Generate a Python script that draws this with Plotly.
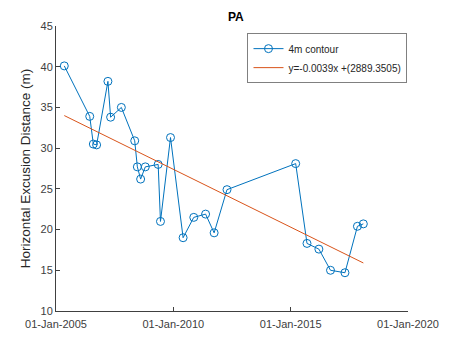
import plotly.graph_objects as go

dates = ["2005-05-10", "2006-06-10", "2006-08-05", "2006-09-25", "2007-03-20",
         "2007-05-01", "2007-10-15", "2008-05-10", "2008-06-20", "2008-08-10",
         "2008-10-22", "2009-05-10", "2009-06-15", "2009-11-18", "2010-06-02",
         "2010-11-15", "2011-05-18", "2011-09-28", "2012-04-15", "2015-03-20",
         "2015-09-12", "2016-03-15", "2016-09-12", "2017-04-25", "2017-11-05",
         "2018-02-05"]
values = [40.1, 33.9, 30.5, 30.4, 38.2, 33.8, 35.0, 30.9, 27.7, 26.2,
          27.7, 28.0, 21.0, 31.3, 19.0, 21.5, 21.9, 19.6, 24.9, 28.1,
          18.3, 17.6, 15.0, 14.7, 20.4, 20.7]
trend_dates = [dates[0], dates[-1]]
trend_values = [34.0, 15.9]

x_ticks = ["2005-01-01", "2010-01-01", "2015-01-01", "2020-01-01"]
x_ticktext = ["01-Jan-2005", "01-Jan-2010", "01-Jan-2015", "01-Jan-2020"]
y_ticks = [10, 15, 20, 25, 30, 35, 40, 45]

FONT = "Arial, Liberation Sans, sans-serif"

fig = go.Figure()
fig.add_trace(go.Scatter(
    x=dates, y=values, mode="lines+markers", name="4m contour",
    line=dict(color="#0072BD", width=1),
    marker=dict(symbol="circle-open", size=8, color="#0072BD", line=dict(width=1)),
))
fig.add_trace(go.Scatter(
    x=trend_dates, y=trend_values, mode="lines", name="y=-0.0039x +(2889.3505)",
    line=dict(color="#D95319", width=1),
))

axis_common = dict(
    showgrid=False, zeroline=False, showline=True, linecolor="#404040", linewidth=1,
    ticks="inside", ticklen=4, tickcolor="#404040", mirror=False,
    tickfont=dict(family=FONT, size=11, color="#404040"),
)
fig.update_xaxes(
    range=["2005-01-01", "2020-01-01"], tickvals=x_ticks, ticktext=x_ticktext,
    ticklabelstandoff=3,
    **axis_common,
)
fig.update_yaxes(
    range=[10, 45], tickvals=y_ticks,
    title=dict(text="Horizontal Excusion Distance (m)", standoff=6,
               font=dict(family=FONT, size=13.5, color="#262626")),
    **axis_common,
)
fig.update_layout(
    width=451, height=342,
    margin=dict(l=56, r=35, t=26, b=30),
    paper_bgcolor="white", plot_bgcolor="white",
    title=dict(text="<b>PA</b>", x=0.523, xanchor="center", y=0.952, yanchor="middle",
               font=dict(family=FONT, size=12, color="black")),
    legend=dict(x=0.544, y=0.975, xanchor="left", yanchor="top",
                bgcolor="white", bordercolor="#808080", borderwidth=1,
                font=dict(family=FONT, size=10, color="#262626"),
                tracegroupgap=0, itemwidth=30),
    showlegend=True,
)
fig.write_html("out.html", config={"displayModeBar": False},
               post_script="document.body.style.margin='0';document.body.style.overflow='hidden';")
